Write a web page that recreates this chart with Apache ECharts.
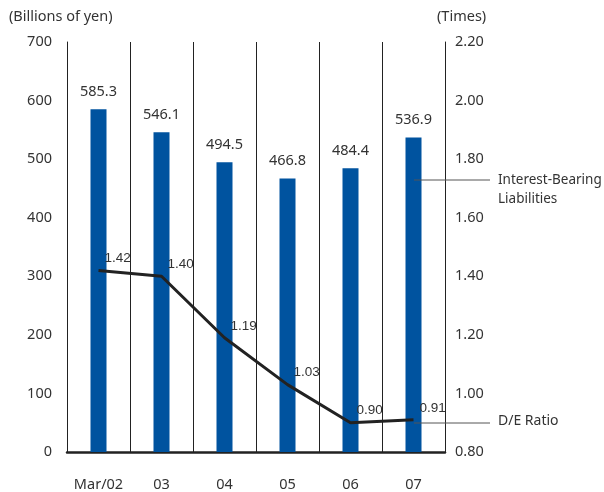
<!DOCTYPE html>
<html><head><meta charset="utf-8">
<script src="https://cdn.jsdelivr.net/npm/echarts@6/dist/echarts.min.js"></script>
<style>html,body{margin:0;padding:0;background:#fff}#c{width:604px;height:492px}</style>
</head><body><div id="c"></div>
<script>
const categories = ['Mar/02', '03', '04', '05', '06', '07'];
const liabilities = [585.3, 546.1, 494.5, 466.8, 484.4, 536.9];
const deRatio = [1.42, 1.40, 1.19, 1.03, 0.90, 0.91];
const leftTitle = '(Billions of yen)';
const rightTitle = '(Times)';

const FONT = '"Noto Sans", "Open Sans", sans-serif';
const TXT = '#333';
const chart = echarts.init(document.getElementById('c'));
chart.setOption({
  animation: false,
  backgroundColor: '#fff',
  textStyle: { fontFamily: FONT },
  grid: { left: 67, right: 159, top: 42, bottom: 36 },
  xAxis: {
    type: 'category', data: categories, boundaryGap: true,
    axisLine: { lineStyle: { color: '#222', width: 2.5 } },
    axisTick: { show: false, interval: 0 },
    axisLabel: { color: TXT, fontSize: 14.5, fontFamily: FONT, margin: 25, interval: 0 },
    splitLine: { show: true, interval: 0, lineStyle: { color: '#222', width: 1 } }
  },
  yAxis: [
    { type: 'value', min: 0, max: 700, interval: 100, position: 'left',
      axisLine: { show: true, lineStyle: { color: '#222', width: 1 } },
      axisTick: { show: false }, splitLine: { show: false },
      axisLabel: { color: TXT, fontSize: 14.5, fontFamily: FONT, margin: 15 } },
    { type: 'value', min: 0.8, max: 2.2, interval: 0.2, position: 'right',
      axisLine: { show: true, lineStyle: { color: '#222', width: 1 } },
      axisTick: { show: false }, splitLine: { show: false },
      axisLabel: { color: TXT, fontSize: 14.5, fontFamily: FONT, margin: 10,
        formatter: v => v.toFixed(2) } }
  ],
  series: [
    { type: 'bar', data: liabilities, barWidth: 16, yAxisIndex: 0,
      itemStyle: { color: '#00539f' },
      label: { show: true, position: 'top', distance: 10, color: TXT, fontSize: 14.5, fontFamily: FONT,
        formatter: p => p.value.toFixed(1) } },
    { type: 'line', data: deRatio, yAxisIndex: 1, symbol: 'circle', symbolSize: 0, showSymbol: true, z: 5,
      itemStyle: { color: '#222' },
      lineStyle: { color: '#222', width: 3 },
      label: { show: true, position: 'right', distance: 6, offset: [0, -12], color: TXT,
        fontSize: 13.5, fontFamily: '"Liberation Sans Narrow", sans-serif',
        formatter: p => p.value.toFixed(2) } }
  ],
  graphic: [
    { type: 'text', left: 9, top: 9, style: { text: leftTitle, fill: TXT, font: '14.5px ' + FONT } },
    { type: 'text', left: 437, top: 9, style: { text: rightTitle, fill: TXT, font: '14.5px ' + FONT } },
    { type: 'line', shape: { x1: 414, y1: 180, x2: 490, y2: 180 }, style: { stroke: '#555', lineWidth: 1 }, z: 10 },
    { type: 'text', left: 498, top: 171, style: { text: 'Interest-Bearing\nLiabilities', fill: TXT, font: '13.5px ' + FONT, lineHeight: 19 } },
    { type: 'line', shape: { x1: 414, y1: 423, x2: 490, y2: 423 }, style: { stroke: '#555', lineWidth: 1 }, z: 10 },
    { type: 'text', left: 498, top: 414, style: { text: 'D/E Ratio', fill: TXT, font: '14px ' + FONT } }
  ]
});
</script></body></html>
